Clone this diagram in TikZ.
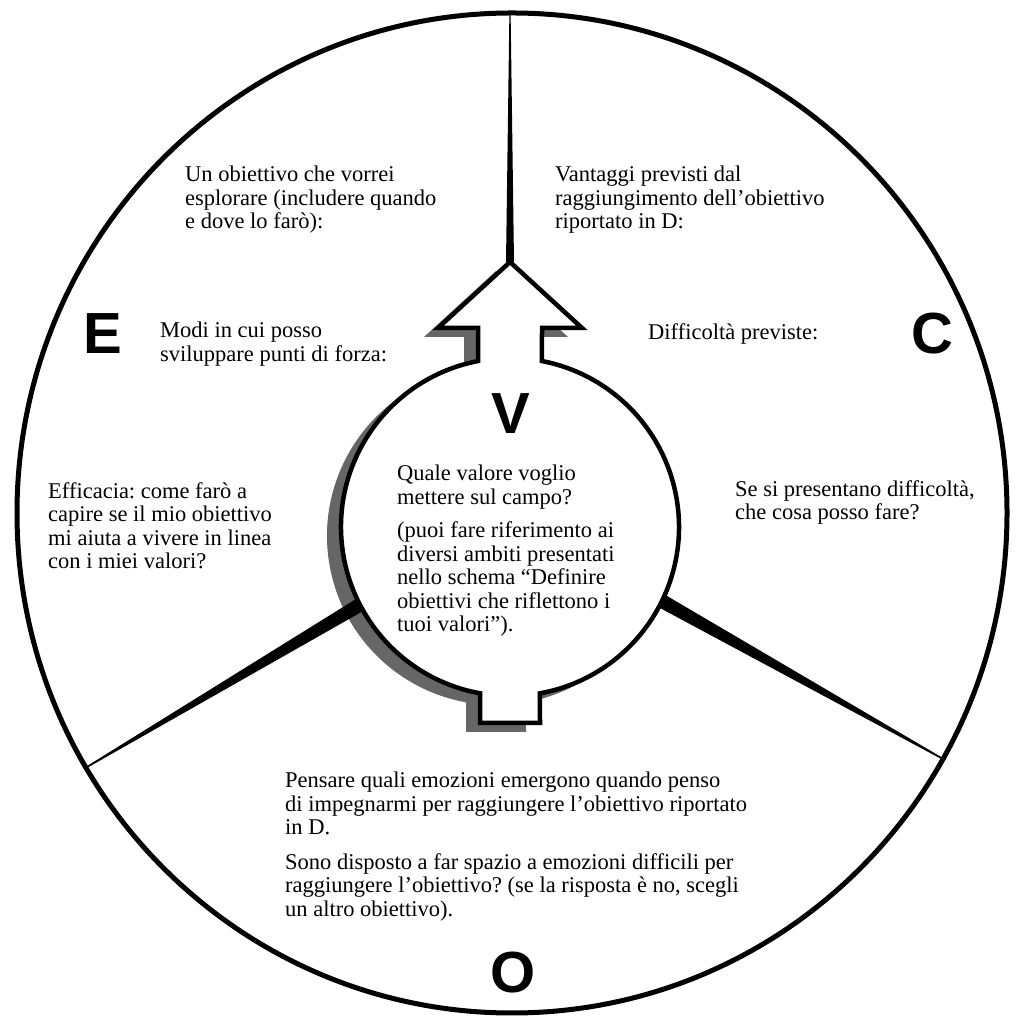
\documentclass[tikz,border=0pt]{standalone}
\usepackage{fontspec}
\setmainfont{Liberation Serif}
\newfontfamily\letterfont{Liberation Sans}
\usepackage{tikz}
\usetikzlibrary{calc}
\frenchspacing

\begin{document}
\begin{tikzpicture}[
				x=1pt, y=1pt,
				note/.style={
					anchor=north west, align=left, inner sep=0pt,
					font=\fontsize{22.5}{23.5}\selectfont
				},
				letter/.style={
					inner sep=0pt,
					font=\letterfont\bfseries\fontsize{58}{58}\selectfont
				},
				ring/.style={line width=5pt, black},
				valbox/.style={
					line width=4.5pt, line join=miter, fill=white,
					preaction={fill=black!60,
						transform canvas={xshift=-14pt, yshift=-9pt}}
				},
				spoke/.style={fill=black}
				]
				\useasboundingbox (0,0) rectangle (1015,1019);
				
				%% ─── OUTER RING ──────────────────────────────────────────
				\coordinate (oc) at (512,506);
				\draw[ring] (oc) ellipse[x radius=495, y radius=500];
				
				%% ─── VALUE CIRCLE WITH ARROW AND NOTCH ───────────────────
				\coordinate (vc) at (510,492);
				\draw[valbox] ($(vc)+(79.1:169)$) -- (542,691) -- (582,691)
				-- (510,757) -- (438,691) -- (478,691)
				-- ($(vc)+(100.9:169)$) arc[start angle=100.9, end angle=259.8, radius=169]
				-- (480,296) -- (540,296)
				-- ($(vc)+(280.2:169)$) arc[start angle=280.2, end angle=439.1, radius=169]
				-- cycle;
				
				%% ─── SPOKES ──────────────────────────────────────────────
				\coordinate (tip) at (510,757);
				\coordinate (top) at (510,1006);
				\coordinate (lin) at ($(vc)+(207.4:169)$);
				\coordinate (lout) at (87,252);
				\coordinate (rin) at ($(vc)+(334:169)$);
				\coordinate (rout) at (943,260);
				
				\fill[spoke] ($(tip)!4pt!90:(top)$) -- ($(top)!0.6pt!-90:(tip)$)
				-- ($(top)!0.6pt!90:(tip)$) -- ($(tip)!4pt!-90:(top)$) -- cycle;
				\fill[spoke] ($(lin)!7pt!90:(lout)$) -- ($(lout)!0.8pt!-90:(lin)$)
				-- ($(lout)!0.8pt!90:(lin)$) -- ($(lin)!7pt!-90:(lout)$) -- cycle;
				\fill[spoke] ($(rin)!7pt!90:(rout)$) -- ($(rout)!0.8pt!-90:(rin)$)
				-- ($(rout)!0.8pt!90:(rin)$) -- ($(rin)!7pt!-90:(rout)$) -- cycle;
				
				%% ─── LETTERS ─────────────────────────────────────────────
				\node[letter] (e) at (103,685) {E};
				\node[letter] (c) at (932,685) {C};
				\node[letter] (v) at (511,605) {V};
				\node[letter] (o) at (513,46) {O};
				
				%% ─── NOTES ───────────────────────────────────────────────
				\node[note] (goal) at (185,853)
				{Un obiettivo che vorrei\\esplorare (includere quando\\e dove lo farò):};
				\node[note] (gain) at (555,853)
				{Vantaggi previsti dal\\raggiungimento dell'obiettivo\\riportato in D:};
				\node[note] (ways) at (160,697)
				{Modi in cui posso\\sviluppare punti di forza:};
				\node[note] (hard) at (648,696) {Difficoltà previste:};
				\node[note] (eff) at (48,537)
				{Efficacia: come farò a\\capire se il mio obiettivo\\mi aiuta a vivere in linea\\con i miei valori?};
				\node[note] (cope) at (735,539)
				{Se si presentano difficoltà,\\che cosa posso fare?};
				\node[note] (val) at (397,554)
				{Quale valore voglio\\mettere sul campo?\\[10pt](puoi fare riferimento ai\\diversi ambiti presentati\\nello schema ``Definire\\obiettivi che riflettono i\\tuoi valori'').};
				\node[note] (emo) at (285,247)
				{Pensare quali emozioni emergono quando penso\\di impegnarmi per raggiungere l'obiettivo riportato\\in D.\\[11pt]Sono disposto a far spazio a emozioni difficili per\\raggiungere l'obiettivo? (se la risposta è no, scegli\\un altro obiettivo).};
				
\end{tikzpicture}
\end{document}
